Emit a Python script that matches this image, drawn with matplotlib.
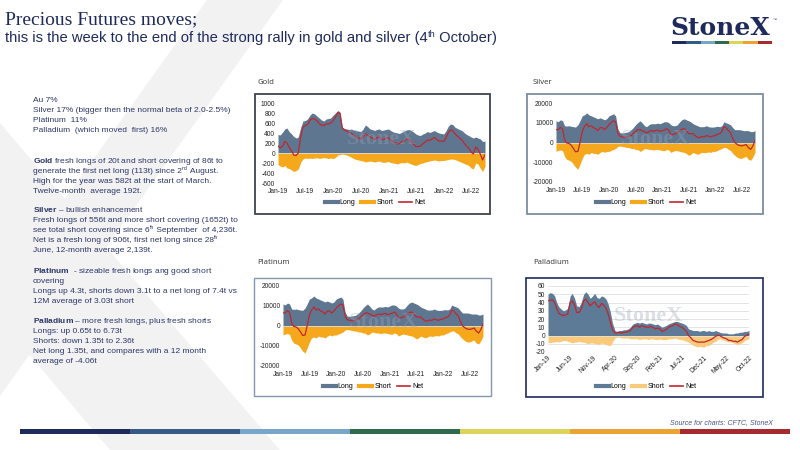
import pandas as pd
import matplotlib
matplotlib.use('Agg')
import matplotlib.pyplot as plt
import matplotlib.dates as mdates
from matplotlib.patches import Rectangle, Polygon
from matplotlib.lines import Line2D

W, H = 800, 450

####################################################################
############################## data ################################
####################################################################
# semi-monthly observations (1st and 15th), Jan-19 .. Oct-22
dates = pd.date_range('2019-01-01', '2022-10-01', freq='SMS')

gold_long = [370, 360, 420, 480, 500, 430, 380, 330, 300, 320, 520, 640, 650, 680, 760, 800, 780, 740, 700, 660, 640, 680, 690, 700,
             760, 800, 850, 820, 520, 490, 480, 470, 480, 460, 450, 440, 430, 470, 560, 530, 480, 470, 450, 470, 480, 450, 460, 470,
             480, 450, 420, 410, 400, 390, 420, 440, 460, 470, 450, 420, 380, 360, 350, 380, 400, 430, 410, 430, 450, 420, 400, 390,
             380, 440, 540, 580, 570, 520, 490, 470, 450, 410, 370, 350, 320, 300, 320, 300, 280, 230, 240]
gold_short = [-230, -260, -280, -250, -300, -310, -340, -370, -350, -320, -180, -120, -100, -110, -100, -110, -100, -90, -110, -100, -90, -100, -110, -100,
              -110, -90, -40, -30, -20, -30, -40, -60, -90, -110, -130, -140, -150, -160, -180, -170, -160, -170, -180, -170, -160, -180, -190, -180,
              -170, -190, -200, -210, -220, -200, -190, -200, -180, -200, -220, -240, -250, -230, -210, -200, -180, -170, -160, -150, -140, -150, -160, -150,
              -150, -140, -130, -120, -120, -130, -150, -170, -190, -210, -230, -250, -300, -320, -200, -220, -310, -370, -270]

silver_long = [11000, 10500, 11500, 11000, 8500, 8300, 8500, 8200, 8000, 7800, 9000, 11000, 13500, 14000, 15000, 14000, 13500, 13000, 12500, 12000, 12500, 12000, 11500, 12000,
               13500, 14000, 14500, 13500, 7000, 5000, 4800, 5000, 5200, 5500, 6500, 7500, 9000, 10000, 11000, 10000, 8500, 8000, 9000, 9500, 9500, 9500, 9800, 9500,
               10000, 10500, 10500, 10000, 9000, 8500, 8500, 9000, 10500, 11500, 12000, 11500, 11000, 10500, 9500, 9000, 8500, 8000, 8000, 8000, 8500, 8000, 7800, 7800,
               8000, 8200, 8000, 8500, 10500, 10000, 9500, 9000, 7500, 6500, 6500, 6500, 6300, 6000, 6000, 6000, 5500, 5500, 6000]
silver_short = [-4500, -4000, -3800, -4200, -7000, -8500, -9000, -9500, -11000, -12500, -13500, -11000, -8000, -6000, -5500, -6000, -5000, -5500, -5500, -6000, -5000, -4500, -5000, -4500,
                -4500, -4000, -3500, -3000, -2000, -1800, -2000, -2200, -2500, -2500, -3000, -3000, -3500, -3500, -4500, -4000, -3000, -3200, -3500, -3500, -3800, -3500, -3500, -3800,
                -4000, -4200, -3500, -3800, -5000, -4500, -4000, -4200, -4500, -4800, -5000, -5500, -6500, -6000, -5000, -5500, -6000, -5500, -5000, -5200, -5000, -4800, -5000, -4500,
                -4500, -4000, -3500, -3000, -2500, -2500, -3500, -4000, -5500, -6500, -7500, -8000, -8000, -7500, -7000, -8500, -9000, -7500, -5000]

# the source slide shows the very same series in its platinum panel
platinum_long = silver_long
platinum_short = silver_short

palladium_long = [50, 52, 51, 48, 40, 35, 32, 30, 31, 33, 48, 51, 45, 36, 35, 40, 50, 53, 50, 45, 48, 51, 46, 45,
                  48, 47, 44, 38, 28, 15, 6, 5, 6, 6, 7, 7, 8, 10, 14, 15, 16, 15, 16, 15, 14, 15, 15, 14,
                  13, 14, 12, 10, 11, 12, 14, 15, 16, 17, 17, 16, 15, 14, 12, 8, 7, 6, 6, 6, 5, 6, 6, 5,
                  6, 5, 5, 6, 5, 4, 3, 3, 3, 2, 2, 2, 3, 3, 4, 4, 5, 5, 6]
palladium_short = [-8, -9, -8, -8, -7, -8, -7, -6, -6, -7, -8, -9, -8, -8, -7, -8, -8, -9, -10, -9, -9, -10, -10, -11,
                   -9, -10, -11, -12, -12, -8, -3, -2, -2, -3, -3, -3, -3, -4, -4, -4, -4, -5, -4, -4, -4, -5, -4, -4,
                   -5, -5, -4, -5, -5, -5, -4, -4, -4, -3, -4, -5, -5, -6, -7, -8, -10, -12, -13, -14, -13, -14, -14, -12,
                   -12, -10, -8, -7, -5, -4, -5, -6, -7, -8, -8, -9, -10, -11, -10, -9, -6, -5, -4]

gold_yticks = [-600, -400, -200, 0, 200, 400, 600, 800, 1000]
silver_yticks = [-20000, -10000, 0, 10000, 20000]
palladium_yticks = [-20, -10, 0, 10, 20, 30, 40, 50, 60]
half_year_ticks = pd.date_range('2019-01-01', '2022-07-01', freq='6MS')
five_month_ticks = pd.date_range('2019-01-01', '2022-10-01', freq='5MS')

# a tuple (before, superscript, after) marks a line with an ordinal suffix
subtitle = ('this is the week to the end of the strong rally in gold and silver (4', 'th', ' October)')
paragraphs = [
    ['Au 7%',
     'Silver 17% (bigger then the normal beta of 2.0-2.5%)',
     'Platinum  11%',
     'Palladium  (which moved  first) 16%'],
    [r'$\mathbf{Gold}$ fresh longs of 20t and short covering of 86t to',
     ('generate the first net long (113t) since 2', 'nd', ' August.'),
     'High for the year was 582t at the start of March.',
     'Twelve-month  average 192t.'],
    [r'$\mathbf{Silver}$ – bullish enhancement',
     'Fresh longs of 556t and more short covering (1652t) to',
     ('see total short covering since 6', 'th', ' September  of 4,236t.'),
     ('Net is a fresh long of 906t, first net long since 28', 'th', ''),
     'June, 12-month average 2,139t.'],
    [r'$\mathbf{Platinum}$  - sizeable fresh longs ang good short',
     'covering',
     'Longs up 4.3t, shorts down 3.1t to a net long of 7.4t vs',
     '12M average of 3.03t short'],
    [r'$\mathbf{Palladium}$ – more fresh longs, plus fresh shorts',
     'Longs: up 0.65t to 6.73t',
     'Shorts: down 1.35t to 2.36t',
     'Net long 1.35t, and compares with a 12 month',
     'average of -4.06t'],
]

####################################################################
############################## style ###############################
####################################################################
plt.rcParams['font.family'] = ['Liberation Sans', 'DejaVu Sans']
plt.rcParams['mathtext.fontset'] = 'custom'
plt.rcParams['mathtext.rm'] = 'Liberation Sans'
plt.rcParams['mathtext.bf'] = 'Liberation Sans:bold'
plt.rcParams['mathtext.it'] = 'Liberation Sans:italic'
plt.rcParams['axes.unicode_minus'] = False

navy = '#1f2a5c'
text_c = '#2b3766'
stripe = ['#1f2a5c', '#355a86', '#76a7c9', '#2d6a4f', '#dcd45a', '#eba433', '#a52b30']
net_c = '#c0272d'

fig = plt.figure(figsize=(8, 4.5), dpi=100)
renderer = fig.canvas.get_renderer()

# background layer in pixel coordinates
bg = fig.add_axes([0, 0, 1, 1], zorder=-10)
bg.set_xlim(0, W)
bg.set_ylim(H, 0)
bg.axis('off')
bg.add_patch(Polygon([(207, 0), (283, 0), (0, 396), (0, 290)], color='#f2f2f2', lw=0))
bg.add_patch(Polygon([(0, 123), (280, 450), (110, 450), (0, 320)], color='#f2f2f2', lw=0))


def write(x, y, line, size, color):
    # plain line, or (before, superscript, after) with a raised small suffix
    if isinstance(line, str):
        bg.text(x, y, line, fontsize=size, color=color, va='baseline')
        return
    before, sup, after = line
    t = bg.text(x, y, before, fontsize=size, color=color, va='baseline')
    x += t.get_window_extent(renderer).width
    t = bg.text(x, y - size * 0.5, sup, fontsize=size * 0.62, color=color, va='baseline')
    x += t.get_window_extent(renderer).width
    if after:
        bg.text(x, y, after, fontsize=size, color=color, va='baseline')


# header
bg.text(5, 24, 'Precious Futures moves;', family='Liberation Serif', fontsize=14, color=navy, va='baseline')
write(5, 42, subtitle, 10.6, navy)
bg.text(720, 35, 'StoneX', family='DejaVu Serif', fontsize=18, weight='bold', color=navy,
        ha='center', va='baseline')
bg.text(773, 21, '™', fontsize=3, color=navy)
seg = 100 / 7
for i, c in enumerate(stripe):
    bg.add_patch(Rectangle((672 + i * seg, 41), seg, 3, color=c, lw=0))

# commentary
y = 102.2
gaps = [0, 31, 19, 21, 20]
for gap, para in zip(gaps, paragraphs):
    y += gap
    for line in para:
        write(33, y, line, 6.0, text_c)
        y += 10
    y -= 10

# footer
bg.text(773, 423, 'Source for charts: CFTC, StoneX', style='italic', fontsize=5, color='#4a5580',
        ha='right', va='center')
seg = 770 / 7
for i, c in enumerate(stripe):
    bg.add_patch(Rectangle((20 + i * seg, 429), seg, 5, color=c, lw=0))


def px(x0, y0, x1, y1):
    return [x0 / W, 1 - y1 / H, (x1 - x0) / W, (y1 - y0) / H]


def chart(plot_box, frame, frame_c, frame_lw, title_xy, title, long, short, yticks, legend_xy,
          long_c, short_c, xticks, fmt, rotate=False, grid=False):
    # frame of the chart object
    x0, y0, x1, y1 = frame
    bg.add_patch(Rectangle((x0, y0), x1 - x0, y1 - y0, fc='white', ec=frame_c, lw=frame_lw))
    bg.text(title_xy[0], title_xy[1], title, family='Noto Sans', fontsize=5.5, color='#404040', va='center')

    ax = fig.add_axes(px(*plot_box))
    ax.patch.set_alpha(0)
    net = [l + s for l, s in zip(long, short)]
    if grid:
        for t in yticks:
            ax.axhline(t, color='#d9d9d9', lw=0.5, zorder=0)
    ax.fill_between(dates, 0, long, color=long_c, lw=0, zorder=2)
    ax.fill_between(dates, short, 0, color=short_c, lw=0, zorder=2)
    ax.axhline(0, color='#e6e6e6', lw=0.5, zorder=3)
    ax.plot(dates, net, color=net_c, lw=0.9, zorder=4)
    ax.text(0.5, 0.55, 'StoneX', transform=ax.transAxes, family='Liberation Serif', fontsize=16,
            weight='bold', color='#9aa6b8', alpha=0.35, ha='center', va='center', zorder=5)

    ax.set_xlim(dates[0], dates[-1])
    ax.set_ylim(yticks[0], yticks[-1])
    ax.set_yticks(yticks)
    ax.set_xticks(xticks)
    ax.xaxis.set_major_formatter(mdates.DateFormatter(fmt))
    for s in ax.spines.values():
        s.set_visible(False)
    ax.tick_params(length=0, labelsize=4.8, colors='#222222')
    ax.tick_params(axis='y', pad=2)
    ax.tick_params(axis='x', pad=3.5)
    if rotate:
        ax.tick_params(axis='x', pad=1.5)
        for lab in ax.get_xticklabels():
            lab.set_rotation(45)
            lab.set_ha('right')
            lab.set_rotation_mode('anchor')

    handles = [Line2D([], [], color=long_c, lw=3), Line2D([], [], color=short_c, lw=3),
               Line2D([], [], color=net_c, lw=1.2)]
    fig.legend(handles, ['Long', 'Short', 'Net'], loc='center',
               bbox_to_anchor=(legend_xy[0] / W, 1 - legend_xy[1] / H), ncol=3, frameon=False,
               fontsize=5, handlelength=1.9, handletextpad=0.3, columnspacing=0.8)
    return ax


chart((278, 103, 485, 183), (255, 94, 490, 214), '#3d4450', 1.3, (258, 83), 'Gold',
      gold_long, gold_short, gold_yticks, (375, 203), '#5f7690', '#f6a81c', half_year_ticks, '%b-%y')
chart((556, 103, 755, 182), (527, 94, 763, 214), '#7d8ca3', 1.3, (533, 82), 'Silver',
      silver_long, silver_short, silver_yticks, (646, 203), '#5f7690', '#f6a81c', half_year_ticks, '%b-%y')
chart((283, 286, 483, 366), (254, 278, 491, 396), '#8497ad', 1.0, (257, 263), 'Platinum',
      platinum_long, platinum_short, silver_yticks, (373, 387), '#5f7690', '#f6a81c', half_year_ticks, '%b-%y')
chart((548, 286, 749, 352), (526, 278, 763, 397), navy, 1.2, (533, 263), 'Palladium',
      palladium_long, palladium_short, palladium_yticks, (646, 387), '#5d7a96', '#fbc97a',
      five_month_ticks, '%b-%y', rotate=True, grid=True)

fig.savefig('out.png', dpi=100)
